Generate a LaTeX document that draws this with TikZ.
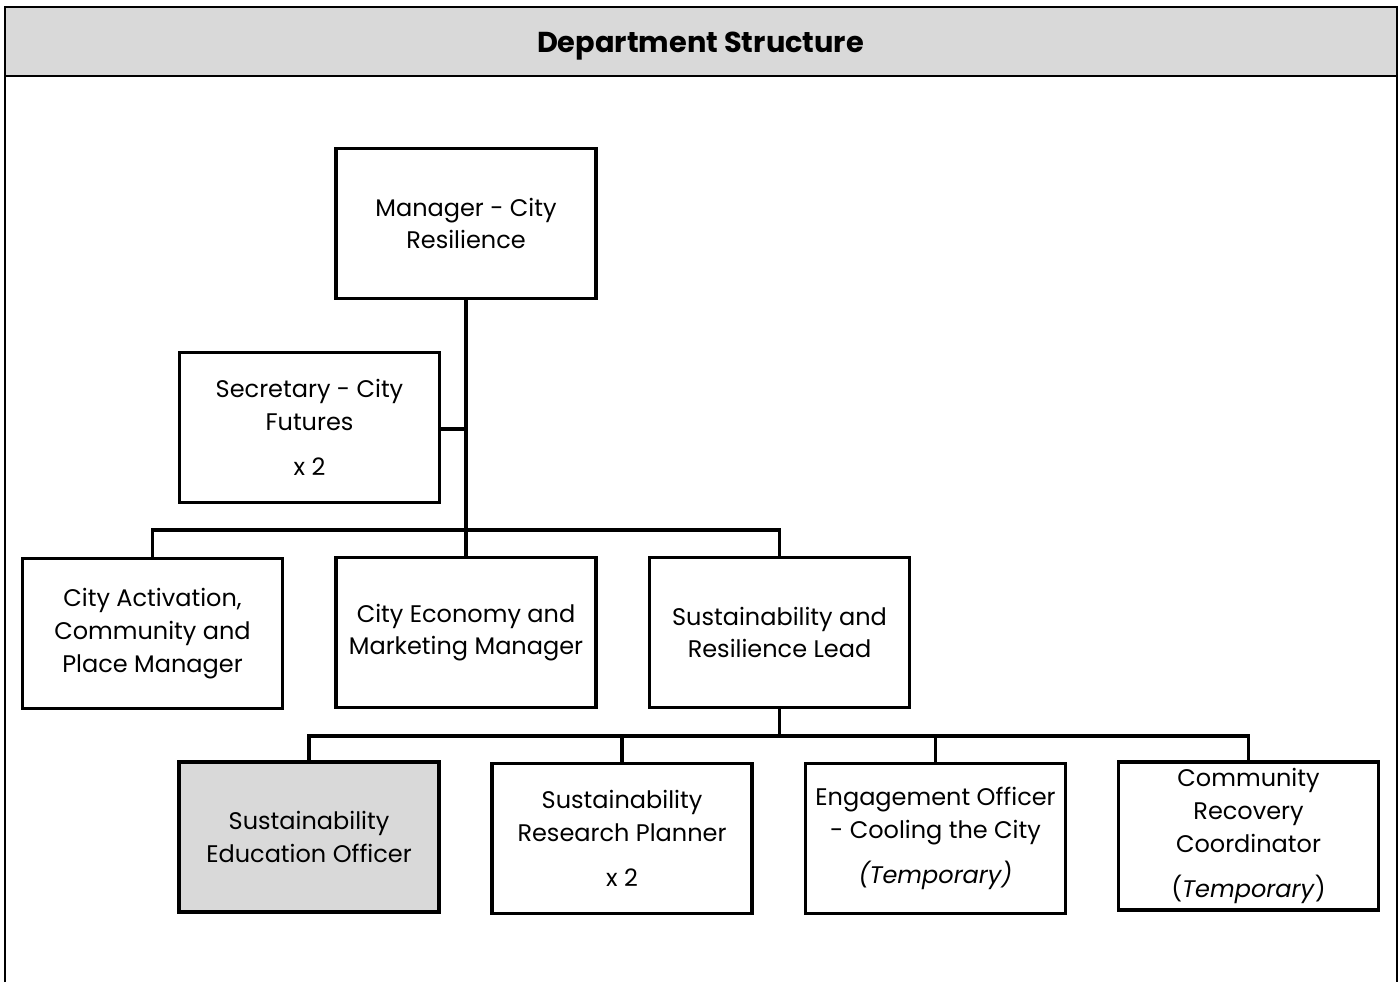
\documentclass[tikz,border=0pt]{standalone}
\usepackage{fontspec}
\setmainfont{Poppins}
\definecolor{hdrgray}{HTML}{D9D9D9}
\begin{document}
\begin{tikzpicture}[x=0.5pt,y=-0.5pt,
  box/.style={draw=black, line width=1.6pt, fill=white, minimum width=130pt, minimum height=75pt,
    inner sep=0pt, align=center, font=\fontsize{12}{16.4}\selectfont},
  hbox/.style={box, fill=hdrgray},
  conn/.style={draw=black, line width=1.6pt},
  frame/.style={draw=black, line width=1pt}]
\useasboundingbox (0,0) rectangle (1400,982);
% header and frame
\fill[hdrgray] (4.5,7) rectangle (1397,76);
\draw[frame] (4.5,982) -- (4.5,7) -- (1397,7) -- (1397,982);
\draw[frame] (4.5,76) -- (1397,76);
\node[font=\fontsize{14.4}{17}\selectfont\bfseries] (title) at (700.5,46.5) {Department Structure};
% nodes
\node[box] (mgr) at (466,223.5) {Manager - City\\Resilience};
\node[box] (sec) at (309.5,427.5) {Secretary - City\\Futures\\[6pt]x 2};
\node[box] (act) at (152.5,633.5) {City Activation,\\Community and\\Place Manager};
\node[box] (econ) at (466,632.5) {City Economy and\\Marketing Manager};
\node[box] (lead) at (779.5,632.5) {Sustainability and\\Resilience Lead};
\node[hbox] (seo) at (309,837) {Sustainability\\Education Officer};
\node[box] (srp) at (622,838.5) {Sustainability\\Research Planner\\[6pt]x 2};
\node[box] (eng) at (935.5,838.5) {Engagement Officer\\- Cooling the City\\[6pt]\textit{(Temporary)}};
\node[box, minimum height=74pt] (crc) at (1248.5,836) {Community\\Recovery\\Coordinator\\[6pt](\textit{Temporary})};
% connectors
\coordinate (bus1) at (466,530);
\coordinate (bus2) at (779.5,736);
\draw[conn] (mgr.south) -- (econ.north);
\draw[conn] (sec.east |- 0,429) -- (mgr.south |- 0,429);
\draw[conn] (act.north) |- (bus1) -| (lead.north);
\draw[conn] (lead.south) -- (bus2);
\draw[conn] (seo.north) |- (bus2) -| (crc.north);
\draw[conn] (srp.north) -- (srp.north |- bus2);
\draw[conn] (eng.north) -- (eng.north |- bus2);
\end{tikzpicture}
\end{document}
